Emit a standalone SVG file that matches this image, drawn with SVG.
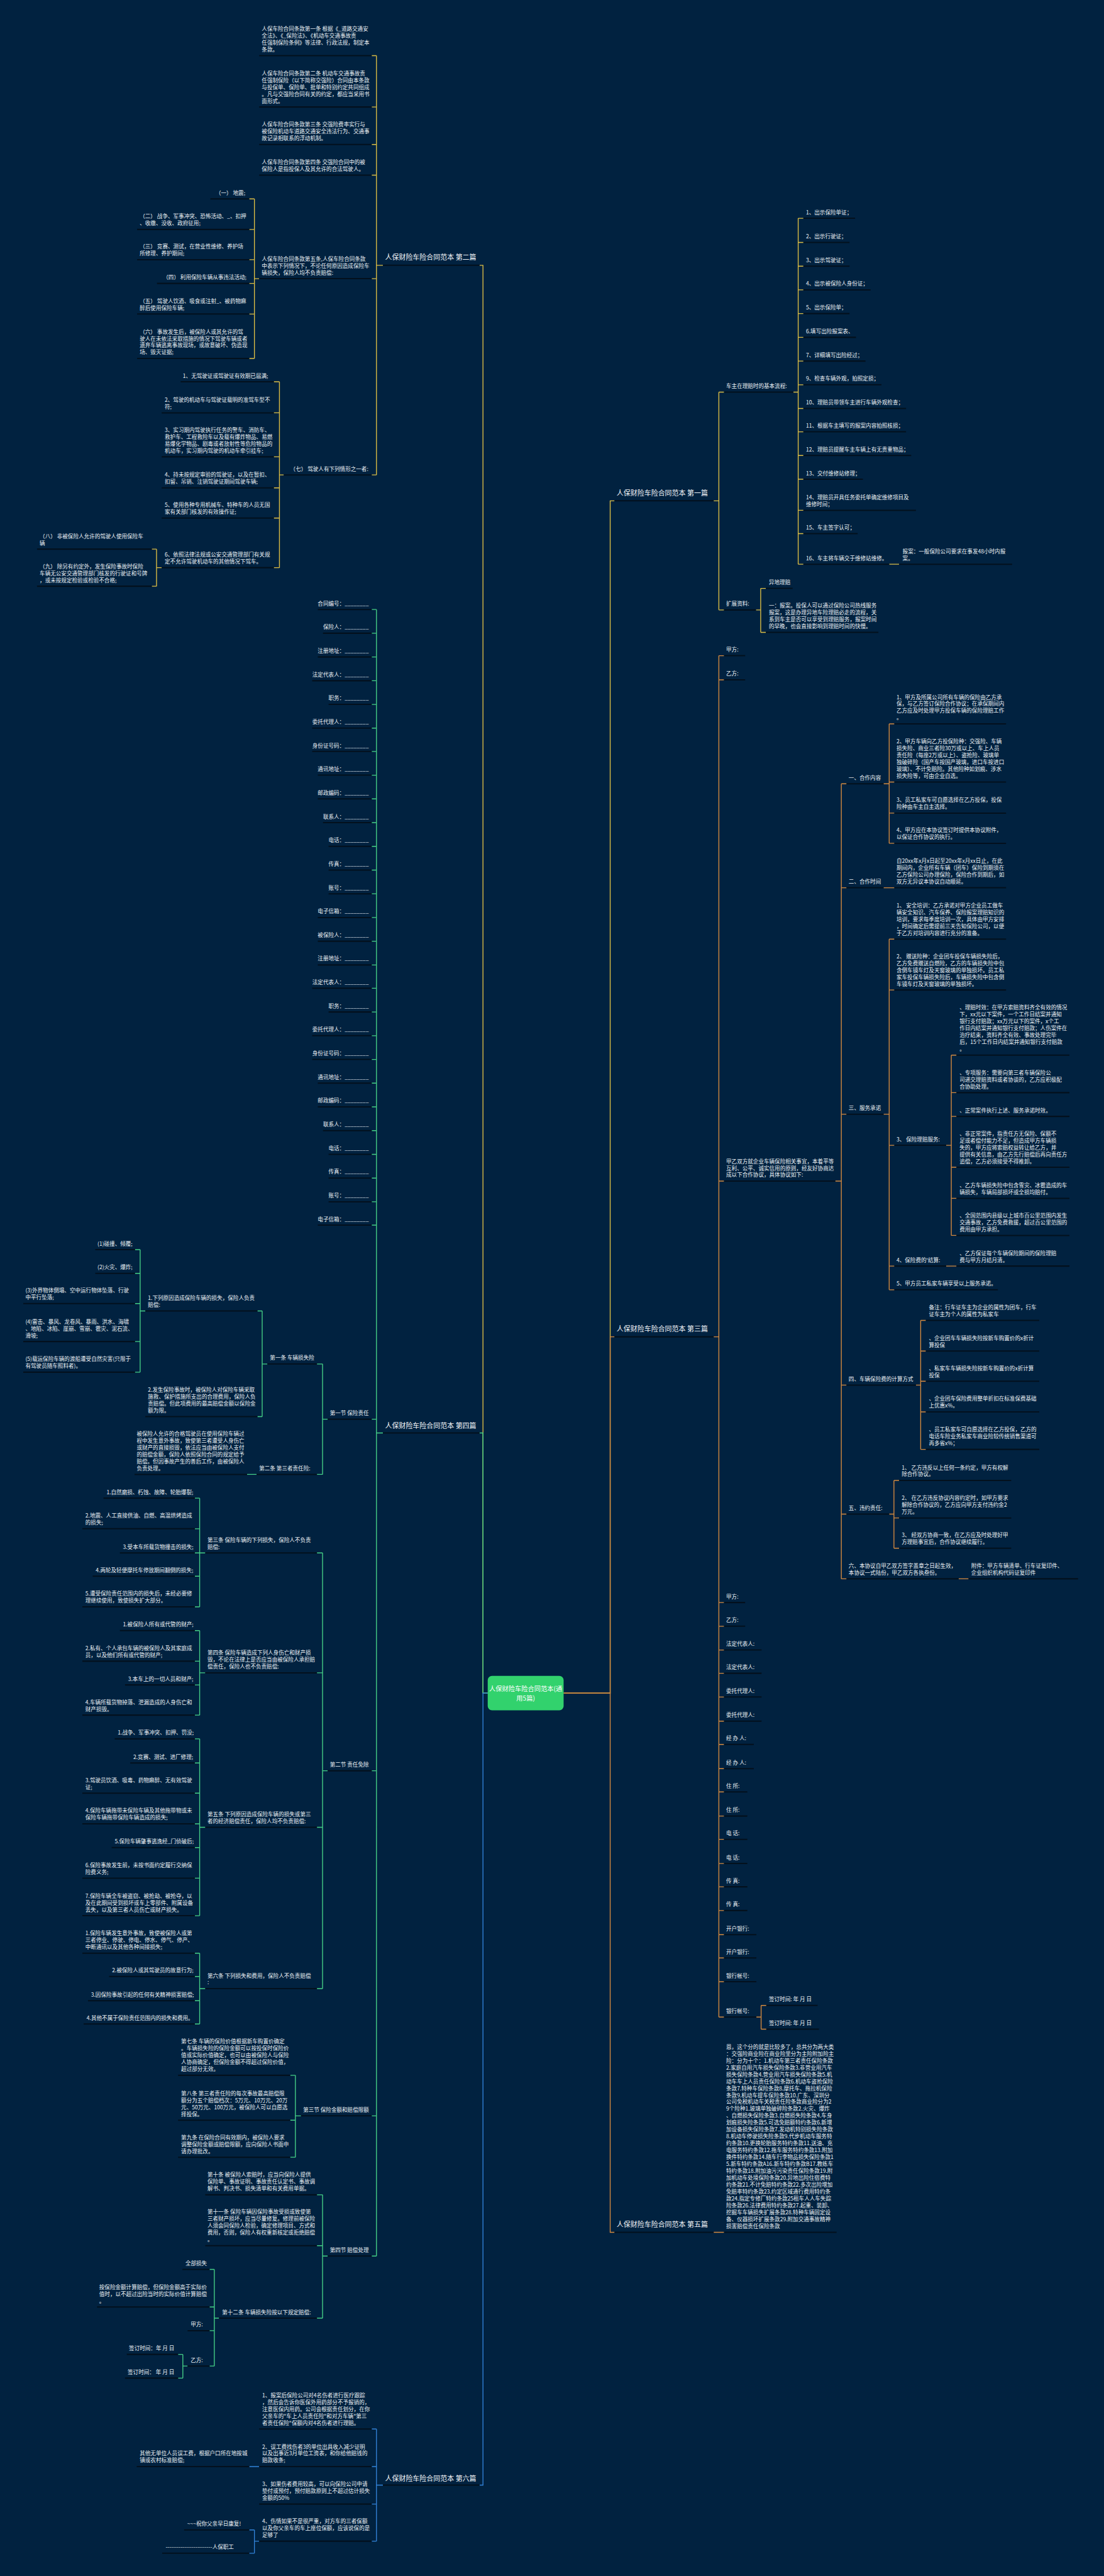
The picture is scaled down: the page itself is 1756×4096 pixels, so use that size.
<svg xmlns="http://www.w3.org/2000/svg" width="1756" height="4096" viewBox="0 0 1756 4096">
<style>
.t{font-family:"Noto Sans CJK SC","Liberation Sans",sans-serif;font-size:12.5px;fill:#eef2f6}
.h{font-family:"Noto Sans CJK SC","Liberation Sans",sans-serif;font-size:16px;fill:#f3f5f8}
.c{font-family:"Noto Sans CJK SC","Liberation Sans",sans-serif;font-size:15px;fill:#ffffff;text-anchor:middle}
.e{text-anchor:end}
.u{stroke:#03101d;stroke-width:3;fill:none}
.cy{stroke:#dcbd45;stroke-width:2;fill:none}
.co{stroke:#d4893f;stroke-width:2;fill:none}
.cg{stroke:#45cf86;stroke-width:2;fill:none}
.cb{stroke:#3282d8;stroke-width:2;fill:none}
</style>
<rect width="1756" height="4096" fill="#012240"/>
<g transform="scale(0.6859)">
<g id="connectors">
<path class="cy" d="M1131 3925H1120V615H1112M888 615H873M873 129V1101M873 129H862M873 248H862M873 335H862M873 406H862M873 646H862M873 1101H862M601 646H590M590 461V831M590 461H578M590 532H578M590 602H578M590 657H578M590 728H578M590 831H578M658 1101H648M648 885V1316M648 885H635M648 957H635M648 1059H635M648 1131H635M648 1201H635M648 1316H635M375 1316H363M363 1273V1359M363 1273H352M363 1359H352"/>
<path class="cy" d="M1307 3925H1415V1161H1425M1655 1161H1667M1667 909V1414M1667 909H1679M1667 1414H1679M1840 909H1851M1851 506V1308M1851 506H1863M1851 562H1863M1851 617H1863M1851 672H1863M1851 727H1863M1851 782H1863M1851 837H1863M1851 892H1863M1851 947H1863M1851 1001H1863M1851 1056H1863M1851 1111H1863M1851 1183H1863M1851 1237H1863M1851 1308H1863M2062 1308H2085M1753 1414H1764M1764 1364V1466M1764 1364H1776M1764 1466H1776"/>
<path class="co" d="M1307 3925H1415V3099H1425M1655 3099H1667M1667 1520V4676M1667 1520H1679M1667 1576H1679M1667 2738H1679M1667 3715H1679M1667 3770H1679M1667 3825H1679M1667 3879H1679M1667 3934H1679M1667 3990H1679M1667 4044H1679M1667 4100H1679M1667 4154H1679M1667 4210H1679M1667 4264H1679M1667 4320H1679M1667 4374H1679M1667 4429H1679M1667 4485H1679M1667 4539H1679M1667 4594H1679M1667 4676H1679M1754 4676H1765M1765 4649V4704M1765 4649H1777M1765 4704H1777M1937 2738H1951M1951 1817V3660M1951 1817H1963M1951 2058H1963M1951 2583H1963M1951 3211H1963M1951 3510H1963M1951 3660H1963M2049 1817H2062M2062 1678V1955M2062 1678H2074M2062 1813H2074M2062 1885H2074M2062 1955H2074M2049 2058H2074M2049 2583H2062M2062 2177V2990M2062 2177H2074M2062 2295H2074M2062 2655H2074M2062 2935H2074M2062 2990H2074M2194 2655H2206M2206 2446V2864M2206 2446H2218M2206 2533H2218M2206 2588H2218M2206 2706H2218M2206 2778H2218M2206 2864H2218M2194 2935H2218M2124 3211H2135M2135 3061V3360M2135 3061H2147M2135 3132H2147M2135 3202H2147M2135 3273H2147M2135 3360H2147M2062 3510H2073M2073 3432V3589M2073 3432H2085M2073 3519H2085M2073 3589H2085M2223 3660H2246"/>
<path class="co" d="M1307 3925H1415V5175H1425M1655 5175H1679"/>
<path class="cg" d="M1131 3925H1120V3322H1112M888 3322H873M873 1413V5230M873 1413H862M873 1468H862M873 1523H862M873 1578H862M873 1633H862M873 1688H862M873 1742H862M873 1797H862M873 1852H862M873 1907H862M873 1962H862M873 2017H862M873 2072H862M873 2127H862M873 2182H862M873 2237H862M873 2291H862M873 2346H862M873 2401H862M873 2456H862M873 2511H862M873 2566H862M873 2621H862M873 2676H862M873 2731H862M873 2786H862M873 2840H862M873 3290H862M873 4105H862M873 4905H862M873 5230H862M760 3290H748M748 3162V3418M748 3162H735M748 3418H735M620 3162H608M608 3039V3284M608 3039H597M608 3284H597M337 3039H325M325 2897V3181M325 2897H313M325 2952H313M325 3022H313M325 3110H313M325 3181H313M595 3418H573M760 4105H748M748 3600V4610M748 3600H735M748 3878H735M748 4236H735M748 4610H735M476 3600H463M463 3473V3725M463 3473H452M463 3544H452M463 3600H452M463 3654H452M463 3725H452M476 3878H463M463 3780V3976M463 3780H452M463 3851H452M463 3906H452M463 3976H452M476 4236H463M463 4031V4441M463 4031H452M463 4087H452M463 4157H452M463 4228H452M463 4283H452M463 4354H452M463 4441H452M476 4610H463M463 4528V4692M463 4528H452M463 4582H452M463 4638H452M463 4692H452M698 4905H685M685 4811V5001M685 4811H673M685 4915H673M685 5001H673M760 5230H748M748 5088V5374M748 5088H735M748 5206H735M748 5374H735M508 5374H497M497 5261V5485M497 5261H486M497 5348H486M497 5403H486M497 5485H486M435 5485H424M424 5458V5513M424 5458H413M424 5513H413"/>
<path class="cb" d="M1131 3925H1120V5761H1112M888 5761H873M873 5631V5891M873 5631H862M873 5718H862M873 5805H862M873 5891H862M601 5718H578M601 5891H590M590 5865V5919M590 5865H578M590 5919H578"/>
</g>

<g id="center"><rect x="1131" y="3885" width="176" height="80" rx="10" fill="#32d26d"/><text class="c"><tspan x="1219" y="3920">人保财险车险合同范本(通</tspan><tspan x="1219" dy="22">用5篇)</tspan></text></g>

<g id="b2"><text class="h" x="893" y="602">人保财险车险合同范本 第二篇</text><path class="u" d="M888 615H1112"/></g>
<g id="b4"><text class="h" x="893" y="3311">人保财险车险合同范本 第四篇</text><path class="u" d="M888 3322H1112"/></g>
<g id="b6"><text class="h" x="893" y="5751">人保财险车险合同范本 第六篇</text><path class="u" d="M888 5761H1112"/></g>
<g id="b1"><text class="h" x="1430" y="1149">人保财险车险合同范本 第一篇</text><path class="u" d="M1425 1161H1655"/></g>
<g id="b3"><text class="h" x="1430" y="3087">人保财险车险合同范本 第三篇</text><path class="u" d="M1425 3099H1655"/></g>
<g id="b5"><text class="h" x="1430" y="5163">人保财险车险合同范本 第五篇</text><path class="u" d="M1425 5175H1655"/></g>

<!-- 第二篇 -->
<g id="n2-1"><text class="t"><tspan x="607" y="71.5">人保车险合同条款第一条 根据《_道路交通安</tspan><tspan x="607" dy="16">全法》、《_保险法》、《机动车交通事故责</tspan><tspan x="607" dy="16">任强制保险条例》等法律、行政法规，制定本</tspan><tspan x="607" dy="16">条款。</tspan></text><path class="u" d="M601 129H862"/></g>
<g id="n2-2"><text class="t"><tspan x="607" y="174.5">人保车险合同条款第二条 机动车交通事故责</tspan><tspan x="607" dy="16">任强制保险（以下简称交强险）合同由本条款</tspan><tspan x="607" dy="16">与投保单、保险单、批单和特别约定共同组成</tspan><tspan x="607" dy="16">。凡与交强险合同有关的约定，都应当采用书</tspan><tspan x="607" dy="16">面形式。</tspan></text><path class="u" d="M601 248H862"/></g>
<g id="n2-3"><text class="t"><tspan x="607" y="293.5">人保车险合同条款第三条 交强险费率实行与</tspan><tspan x="607" dy="16">被保险机动车道路交通安全违法行为、交通事</tspan><tspan x="607" dy="16">故记录相联系的浮动机制。</tspan></text><path class="u" d="M601 335H862"/></g>
<g id="n2-4"><text class="t"><tspan x="607" y="380.5">人保车险合同条款第四条 交强险合同中的被</tspan><tspan x="607" dy="16">保险人是指投保人及其允许的合法驾驶人。</tspan></text><path class="u" d="M601 406H862"/></g>
<g id="n2-5"><text class="t"><tspan x="607" y="604.5">人保车险合同条款第五条,人保车险合同条款</tspan><tspan x="607" dy="16">中表示下列情况下，不论任何原因造成保险车</tspan><tspan x="607" dy="16">辆损失，保险人均不负责赔偿:</tspan></text><path class="u" d="M601 646H862"/></g>
<g id="n2-5-1"><text class="t" x="500" y="451.5">（一） 地震;</text><path class="u" d="M488 461H578"/></g>
<g id="n2-5-2"><text class="t"><tspan x="324" y="506.5">（二） 战争、军事冲突、恐怖活动、_、扣押</tspan><tspan x="324" dy="16">、收缴、没收、政府征用;</tspan></text><path class="u" d="M318 532H578"/></g>
<g id="n2-5-3"><text class="t"><tspan x="324" y="576.5">（三） 竞赛、测试，在营业性维修、养护场</tspan><tspan x="324" dy="16">所修理、养护期间;</tspan></text><path class="u" d="M318 602H578"/></g>
<g id="n2-5-4"><text class="t" x="378" y="647.5">（四） 利用保险车辆从事违法活动;</text><path class="u" d="M364 657H578"/></g>
<g id="n2-5-5"><text class="t"><tspan x="324" y="702.5">（五） 驾驶人饮酒、吸食或注射_、被药物麻</tspan><tspan x="324" dy="16">醉后使用保险车辆;</tspan></text><path class="u" d="M318 728H578"/></g>
<g id="n2-5-6"><text class="t"><tspan x="324" y="773.5">（六） 事故发生后，被保险人或其允许的驾</tspan><tspan x="324" dy="16">驶人在未依法采取措施的情况下驾驶车辆或者</tspan><tspan x="324" dy="16">遗弃车辆逃离事故现场，或故意破坏、伪造现</tspan><tspan x="324" dy="16">场、毁灭证据;</tspan></text><path class="u" d="M318 831H578"/></g>
<g id="n2-7"><text class="t" x="673" y="1091.5">（七） 驾驶人有下列情形之一者:</text><path class="u" d="M658 1101H862"/></g>
<g id="n2-7-1"><text class="t" x="424" y="875.5">1、无驾驶证或驾驶证有效期已届满;</text><path class="u" d="M419 885H635"/></g>
<g id="n2-7-2"><text class="t"><tspan x="382" y="931.5">2、驾驶的机动车与驾驶证载明的准驾车型不</tspan><tspan x="382" dy="16">符;</tspan></text><path class="u" d="M375 957H635"/></g>
<g id="n2-7-3"><text class="t"><tspan x="382" y="1001.5">3、实习期内驾驶执行任务的警车、消防车、</tspan><tspan x="382" dy="16">救护车、工程救险车以及载有爆炸物品、易燃</tspan><tspan x="382" dy="16">易爆化学物品、剧毒或者放射性等危险物品的</tspan><tspan x="382" dy="16">机动车，实习期内驾驶的机动车牵引挂车;</tspan></text><path class="u" d="M375 1059H635"/></g>
<g id="n2-7-4"><text class="t"><tspan x="382" y="1105.5">4、持未按规定审验的驾驶证，以及在暂扣、</tspan><tspan x="382" dy="16">扣留、吊销、注销驾驶证期间驾驶车辆;</tspan></text><path class="u" d="M375 1131H635"/></g>
<g id="n2-7-5"><text class="t"><tspan x="382" y="1175.5">5、使用各种专用机械车、特种车的人员无国</tspan><tspan x="382" dy="16">家有关部门核发的有效操作证;</tspan></text><path class="u" d="M375 1201H635"/></g>
<g id="n2-7-6"><text class="t"><tspan x="382" y="1290.5">6、依照法律法规或公安交通管理部门有关规</tspan><tspan x="382" dy="16">定不允许驾驶机动车的其他情况下驾车。</tspan></text><path class="u" d="M375 1316H635"/></g>
<g id="n2-7-6-1"><text class="t"><tspan x="92" y="1247.5">（八） 非被保险人允许的驾驶人使用保险车</tspan><tspan x="92" dy="16">辆</tspan></text><path class="u" d="M86 1273H352"/></g>
<g id="n2-7-6-2"><text class="t"><tspan x="92" y="1317.5">（九） 除另有约定外，发生保险事故时保险</tspan><tspan x="92" dy="16">车辆无公安交通管理部门核发的行驶证和号牌</tspan><tspan x="92" dy="16">，或未按规定检验或检验不合格;</tspan></text><path class="u" d="M86 1359H352"/></g>

<!-- 第一篇 -->
<g id="n1-a"><text class="t" x="1684" y="899.5">车主在理赔时的基本流程:</text><path class="u" d="M1679 909H1840"/></g>
<g id="n1-a1"><text class="t" x="1869" y="496.5">1、出示保险单证；</text><path class="u" d="M1863 506H1983"/></g>
<g id="n1-a2"><text class="t" x="1869" y="552.5">2、出示行驶证；</text><path class="u" d="M1863 562H1970"/></g>
<g id="n1-a3"><text class="t" x="1869" y="607.5">3、出示驾驶证；</text><path class="u" d="M1863 617H1970"/></g>
<g id="n1-a4"><text class="t" x="1869" y="662.5">4、出示被保险人身份证；</text><path class="u" d="M1863 672H2019"/></g>
<g id="n1-a5"><text class="t" x="1869" y="717.5">5、出示保险单；</text><path class="u" d="M1863 727H1970"/></g>
<g id="n1-a6"><text class="t" x="1869" y="772.5">6.填写出险报案表、</text><path class="u" d="M1863 782H1985"/></g>
<g id="n1-a7"><text class="t" x="1869" y="827.5">7、详细填写出险经过；</text><path class="u" d="M1863 837H2007"/></g>
<g id="n1-a9"><text class="t" x="1869" y="882.5">9、检查车辆外观，拍照定损；</text><path class="u" d="M1863 892H2044"/></g>
<g id="n1-a10"><text class="t" x="1869" y="937.5">10、理赔员带领车主进行车辆外观检查；</text><path class="u" d="M1863 947H2101"/></g>
<g id="n1-a11"><text class="t" x="1869" y="991.5">11、根据车主填写的报案内容拍照核损；</text><path class="u" d="M1863 1001H2101"/></g>
<g id="n1-a12"><text class="t" x="1869" y="1046.5">12、理赔员提醒车主车辆上有无贵重物品；</text><path class="u" d="M1863 1056H2113"/></g>
<g id="n1-a13"><text class="t" x="1869" y="1101.5">13、交付维修站修理；</text><path class="u" d="M1863 1111H2001"/></g>
<g id="n1-a14"><text class="t"><tspan x="1869" y="1157.5">14、理赔员开具任务委托单确定维修项目及</tspan><tspan x="1869" dy="16">维修时间；</tspan></text><path class="u" d="M1863 1183H2124"/></g>
<g id="n1-a15"><text class="t" x="1869" y="1227.5">15、车主签字认可；</text><path class="u" d="M1863 1237H1989"/></g>
<g id="n1-a16"><text class="t" x="1869" y="1298.5">16、车主将车辆交于维修站维修。</text><path class="u" d="M1863 1308H2062"/></g>
<g id="n1-a16-1"><text class="t"><tspan x="2093" y="1282.5">报案：一般保险公司要求在事发48小时内报</tspan><tspan x="2093" dy="16">案。</tspan></text><path class="u" d="M2085 1308H2347"/></g>
<g id="n1-b"><text class="t" x="1684" y="1404.5">扩展资料:</text><path class="u" d="M1679 1414H1753"/></g>
<g id="n1-b1"><text class="t" x="1783" y="1354.5">异地理赔</text><path class="u" d="M1776 1364H1838"/></g>
<g id="n1-b2"><text class="t"><tspan x="1783" y="1408.5">一：报案。投保人可以通过保险公司热线服务</tspan><tspan x="1783" dy="16">报案，这是办理异地车险理赔必走的流程，关</tspan><tspan x="1783" dy="16">系到车主是否可以享受到理赔服务，报案时间</tspan><tspan x="1783" dy="16">的早晚，也会直接影响到理赔时间的快慢。</tspan></text><path class="u" d="M1776 1466H2037"/></g>

<!-- 第三篇 -->
<g id="n3-1"><text class="t" x="1684" y="1510.5">甲方:</text><path class="u" d="M1679 1520H1728"/></g>
<g id="n3-2"><text class="t" x="1684" y="1566.5">乙方:</text><path class="u" d="M1679 1576H1728"/></g>
<g id="n3-3"><text class="t"><tspan x="1684" y="2696.5">甲乙双方就企业车辆保险相关事宜，本着平等</tspan><tspan x="1684" dy="16">互利、公平、诚实信用的原则，经友好协商达</tspan><tspan x="1684" dy="16">成以下合作协议，具体协议如下:</tspan></text><path class="u" d="M1679 2738H1937"/></g>
<g id="n3-3-1"><text class="t" x="1968" y="1807.5">一、合作内容</text><path class="u" d="M1963 1817H2049"/></g>
<g id="n3-3-1-1"><text class="t"><tspan x="2079" y="1620.5">1、甲方及所属公司所有车辆的保险由乙方承</tspan><tspan x="2079" dy="16">保，与乙方签订保险合作协议；在承保期间内</tspan><tspan x="2079" dy="16">乙方应及时处理甲方投保车辆的保险理赔工作</tspan><tspan x="2079" dy="16">。</tspan></text><path class="u" d="M2074 1678H2333"/></g>
<g id="n3-3-1-2"><text class="t"><tspan x="2079" y="1723.5">2、甲方车辆向乙方投保险种：交强险、车辆</tspan><tspan x="2079" dy="16">损失险、商业三者险30万或以上、车上人员</tspan><tspan x="2079" dy="16">责任险（每座2万或以上）、盗抢险、玻璃单</tspan><tspan x="2079" dy="16">独破碎险（国产车按国产玻璃，进口车按进口</tspan><tspan x="2079" dy="16">玻璃）、不计免赔险。其他险种如划痕、涉水</tspan><tspan x="2079" dy="16">损失险等，可由企业自选。</tspan></text><path class="u" d="M2074 1813H2333"/></g>
<g id="n3-3-1-3"><text class="t"><tspan x="2079" y="1859.5">3、员工私家车可自愿选择在乙方投保，投保</tspan><tspan x="2079" dy="16">险种由车主自主选择。</tspan></text><path class="u" d="M2074 1885H2333"/></g>
<g id="n3-3-1-4"><text class="t"><tspan x="2079" y="1929.5">4、甲方应在本协议签订时提供本协议附件，</tspan><tspan x="2079" dy="16">以保证合作协议的执行。</tspan></text><path class="u" d="M2074 1955H2333"/></g>
<g id="n3-3-2"><text class="t" x="1968" y="2048.5">二、合作时间</text><path class="u" d="M1963 2058H2049"/></g>
<g id="n3-3-2-1"><text class="t"><tspan x="2079" y="2000.5">自20xx年x月x日起至20xx年x月xx日止，在此</tspan><tspan x="2079" dy="16">期间内，企业所有车辆（团车）保险到期须在</tspan><tspan x="2079" dy="16">乙方保险公司办理保险，保险合作到期后，如</tspan><tspan x="2079" dy="16">双方无异议本协议自动顺延。</tspan></text><path class="u" d="M2074 2058H2333"/></g>
<g id="n3-3-3"><text class="t" x="1968" y="2573.5">三、服务承诺</text><path class="u" d="M1963 2583H2049"/></g>
<g id="n3-3-3-1"><text class="t"><tspan x="2079" y="2103.5">1、 安全培训：乙方承诺对甲方企业员工做车</tspan><tspan x="2079" dy="16">辆安全知识、汽车保养、保险报案理赔知识的</tspan><tspan x="2079" dy="16">培训，要求每季度培训一次，具体由甲方安排</tspan><tspan x="2079" dy="16">，时间确定后需提前三天告知保险公司，以便</tspan><tspan x="2079" dy="16">于乙方对培训内容进行充分的准备。</tspan></text><path class="u" d="M2074 2177H2333"/></g>
<g id="n3-3-3-2"><text class="t"><tspan x="2079" y="2221.5">2、 赠送险种：企业团车投保车辆损失险后，</tspan><tspan x="2079" dy="16">乙方免费赠送自燃险，乙方的车辆损失险中包</tspan><tspan x="2079" dy="16">含倒车镜车灯及天窗玻璃的单独损坏。员工私</tspan><tspan x="2079" dy="16">家车投保车辆损失险后，车辆损失险中包含倒</tspan><tspan x="2079" dy="16">车镜车灯及天窗玻璃的单独损坏。</tspan></text><path class="u" d="M2074 2295H2333"/></g>
<g id="n3-3-3-3"><text class="t" x="2079" y="2645.5">3、 保险理赔服务:</text><path class="u" d="M2074 2655H2194"/></g>
<g id="n3-3-3-3-1"><text class="t"><tspan x="2225" y="2340.5">、理赔时效：在甲方索赔资料齐全有效的情况</tspan><tspan x="2225" dy="16">下，xx元以下案件，一个工作日结案并通知</tspan><tspan x="2225" dy="16">银行支付赔款；xx万元以下的案件，x个工</tspan><tspan x="2225" dy="16">作日内结案并通知银行支付赔款；人伤案件在</tspan><tspan x="2225" dy="16">治疗结束，资料齐全有效、事故处理完毕</tspan><tspan x="2225" dy="16">后，15个工作日内结案并通知银行支付赔款</tspan><tspan x="2225" dy="16">。</tspan></text><path class="u" d="M2218 2446H2480"/></g>
<g id="n3-3-3-3-2"><text class="t"><tspan x="2225" y="2491.5">、专项服务：需要向第三者车辆保险公</tspan><tspan x="2225" dy="16">司递交理赔资料或者协谈的，乙方应积极配</tspan><tspan x="2225" dy="16">合协助处理。</tspan></text><path class="u" d="M2218 2533H2480"/></g>
<g id="n3-3-3-3-3"><text class="t" x="2225" y="2578.5">、正常案件执行上述、服务承诺时效。</text><path class="u" d="M2218 2588H2480"/></g>
<g id="n3-3-3-3-4"><text class="t"><tspan x="2225" y="2632.5">、非正常案件，指责任方无保险、保额不</tspan><tspan x="2225" dy="16">足或者偿付能力不足，但造成甲方车辆损</tspan><tspan x="2225" dy="16">失的，甲方应将索赔权益转让给乙方，并</tspan><tspan x="2225" dy="16">提供有关信息，由乙方先行赔偿后再向责任方</tspan><tspan x="2225" dy="16">追偿，乙方必须接受不得推卸。</tspan></text><path class="u" d="M2218 2706H2480"/></g>
<g id="n3-3-3-3-5"><text class="t"><tspan x="2225" y="2752.5">、乙方车辆损失险中包含雪灾、冰雹造成的车</tspan><tspan x="2225" dy="16">辆损失，车辆局部损坏或全损均赔付。</tspan></text><path class="u" d="M2218 2778H2480"/></g>
<g id="n3-3-3-3-6"><text class="t"><tspan x="2225" y="2822.5">、全国范围内县级以上城市百公里范围内发生</tspan><tspan x="2225" dy="16">交通事故，乙方免费救援，超过百公里范围的</tspan><tspan x="2225" dy="16">费用由甲方承担。</tspan></text><path class="u" d="M2218 2864H2480"/></g>
<g id="n3-3-3-4"><text class="t" x="2079" y="2925.5">4、保险费的'结算:</text><path class="u" d="M2074 2935H2194"/></g>
<g id="n3-3-3-4-1"><text class="t"><tspan x="2225" y="2909.5">、乙方保证每个车辆保险期间的保险理赔</tspan><tspan x="2225" dy="16">费与甲方月结月清。</tspan></text><path class="u" d="M2218 2935H2480"/></g>
<g id="n3-3-3-5"><text class="t" x="2079" y="2980.5">5、甲方员工私家车辆享受以上服务承诺。</text><path class="u" d="M2074 2990H2314"/></g>
<g id="n3-3-4"><text class="t" x="1968" y="3201.5">四、车辆保险费的计算方式</text><path class="u" d="M1963 3211H2124"/></g>
<g id="n3-3-4-1"><text class="t"><tspan x="2154" y="3035.5">备注：行车证车主为企业的属性为团车，行车</tspan><tspan x="2154" dy="16">证车主为个人的属性为私家车</tspan></text><path class="u" d="M2147 3061H2410"/></g>
<g id="n3-3-4-2"><text class="t"><tspan x="2154" y="3106.5">、企业团车车辆损失险按新车购置价的x折计</tspan><tspan x="2154" dy="16">算投保</tspan></text><path class="u" d="M2147 3132H2410"/></g>
<g id="n3-3-4-3"><text class="t"><tspan x="2154" y="3176.5">、私家车车辆损失险按新车购置价的x折计算</tspan><tspan x="2154" dy="16">投保</tspan></text><path class="u" d="M2147 3202H2410"/></g>
<g id="n3-3-4-4"><text class="t"><tspan x="2154" y="3247.5">、企业团车保险费用整单折扣在标准保费基础</tspan><tspan x="2154" dy="16">上优惠x%。</tspan></text><path class="u" d="M2147 3273H2410"/></g>
<g id="n3-3-4-5"><text class="t"><tspan x="2154" y="3318.5">、员工私家车可自愿选择在乙方投保，乙方的</tspan><tspan x="2154" dy="16">电话车险业务私家车商业险较传统销售渠道可</tspan><tspan x="2154" dy="16">再多省x%；</tspan></text><path class="u" d="M2147 3360H2410"/></g>
<g id="n3-3-5"><text class="t" x="1968" y="3500.5">五、违约责任:</text><path class="u" d="M1963 3510H2062"/></g>
<g id="n3-3-5-1"><text class="t"><tspan x="2091" y="3406.5">1、 乙方违反以上任何一条约定，甲方有权解</tspan><tspan x="2091" dy="16">除合作协议。</tspan></text><path class="u" d="M2085 3432H2345"/></g>
<g id="n3-3-5-2"><text class="t"><tspan x="2091" y="3477.5">2、 在乙方违反协议内容约定时，如甲方要求</tspan><tspan x="2091" dy="16">解除合作协议的，乙方应向甲方支付违约金2</tspan><tspan x="2091" dy="16">万元。</tspan></text><path class="u" d="M2085 3519H2345"/></g>
<g id="n3-3-5-3"><text class="t"><tspan x="2091" y="3563.5">3、 经双方协商一致，在乙方应及时处理好甲</tspan><tspan x="2091" dy="16">方理赔事宜后，合作协议继续履行。</tspan></text><path class="u" d="M2085 3589H2345"/></g>
<g id="n3-3-6"><text class="t"><tspan x="1968" y="3634.5">六、本协议自甲乙双方签字盖章之日起生效，</tspan><tspan x="1968" dy="16">本协议一式陆份，甲乙双方各执叁份。</tspan></text><path class="u" d="M1963 3660H2223"/></g>
<g id="n3-3-6-1"><text class="t"><tspan x="2252" y="3634.5">附件：甲方车辆清单、行车证复印件、</tspan><tspan x="2252" dy="16">企业组织机构代码证复印件</tspan></text><path class="u" d="M2246 3660H2500"/></g>
<g id="n3-4"><text class="t" x="1684" y="3705.5">甲方:</text><path class="u" d="M1679 3715H1728"/></g>
<g id="n3-5"><text class="t" x="1684" y="3760.5">乙方:</text><path class="u" d="M1679 3770H1728"/></g>
<g id="n3-6"><text class="t" x="1684" y="3815.5">法定代表人:</text><path class="u" d="M1679 3825H1766"/></g>
<g id="n3-7"><text class="t" x="1684" y="3869.5">法定代表人:</text><path class="u" d="M1679 3879H1766"/></g>
<g id="n3-8"><text class="t" x="1684" y="3924.5">委托代理人:</text><path class="u" d="M1679 3934H1766"/></g>
<g id="n3-9"><text class="t" x="1684" y="3980.5">委托代理人:</text><path class="u" d="M1679 3990H1766"/></g>
<g id="n3-10"><text class="t" x="1684" y="4034.5">经 办 人:</text><path class="u" d="M1679 4044H1748"/></g>
<g id="n3-11"><text class="t" x="1684" y="4090.5">经 办 人:</text><path class="u" d="M1679 4100H1748"/></g>
<g id="n3-12"><text class="t" x="1684" y="4144.5">住 所:</text><path class="u" d="M1679 4154H1733"/></g>
<g id="n3-13"><text class="t" x="1684" y="4200.5">住 所:</text><path class="u" d="M1679 4210H1733"/></g>
<g id="n3-14"><text class="t" x="1684" y="4254.5">电 话:</text><path class="u" d="M1679 4264H1733"/></g>
<g id="n3-15"><text class="t" x="1684" y="4310.5">电 话:</text><path class="u" d="M1679 4320H1733"/></g>
<g id="n3-16"><text class="t" x="1684" y="4364.5">传 真:</text><path class="u" d="M1679 4374H1733"/></g>
<g id="n3-17"><text class="t" x="1684" y="4419.5">传 真:</text><path class="u" d="M1679 4429H1733"/></g>
<g id="n3-18"><text class="t" x="1684" y="4475.5">开户银行:</text><path class="u" d="M1679 4485H1754"/></g>
<g id="n3-19"><text class="t" x="1684" y="4529.5">开户银行:</text><path class="u" d="M1679 4539H1754"/></g>
<g id="n3-20"><text class="t" x="1684" y="4584.5">银行帐号:</text><path class="u" d="M1679 4594H1754"/></g>
<g id="n3-21"><text class="t" x="1684" y="4666.5">银行帐号:</text><path class="u" d="M1679 4676H1754"/></g>
<g id="n3-21-1"><text class="t" x="1783" y="4639.5">签订时间:  年 月 日</text><path class="u" d="M1777 4649H1896"/></g>
<g id="n3-21-2"><text class="t" x="1783" y="4694.5">签订时间:   年 月 日</text><path class="u" d="M1777 4704H1899"/></g>

<!-- 第五篇 -->
<g id="n5-1"><text class="t"><tspan x="1684" y="4749.5">恩，这个分的就是比较多了，总共分为两大类</tspan><tspan x="1684" dy="16">：交强险商业险在商业险里分为主险附加险主</tspan><tspan x="1684" dy="16">险：分为十个：1.机动车第三者责任保险条款</tspan><tspan x="1684" dy="16">2.家庭自用汽车损失保险条款3.非营业用汽车</tspan><tspan x="1684" dy="16">损失保险条款4.营业用汽车损失保险条款5.机</tspan><tspan x="1684" dy="16">动车车上人员责任保险条款6.机动车盗抢保险</tspan><tspan x="1684" dy="16">条款7.特种车保险条款8.摩托车、拖拉机保险</tspan><tspan x="1684" dy="16">条款9.机动车提车保险条款10.广东、深圳分</tspan><tspan x="1684" dy="16">公司免税机动车关税责任险条款商业险分为2</tspan><tspan x="1684" dy="16">9个险种1.玻璃单独破碎险条款2.火灾、爆炸</tspan><tspan x="1684" dy="16">、自燃损失保险条款3.自燃损失险条款4.车身</tspan><tspan x="1684" dy="16">划痕损失险条款5.可选免赔额特约条款6.新增</tspan><tspan x="1684" dy="16">加设备损失保险条款7.发动机特别损失险条款</tspan><tspan x="1684" dy="16">8.机动车停驶损失险条款9.代步机动车服务特</tspan><tspan x="1684" dy="16">约条款10.更换轮胎服务特约条款11.送油、充</tspan><tspan x="1684" dy="16">电服务特约条款12.拖车服务特约条款13.附加</tspan><tspan x="1684" dy="16">换件特约条款14.随车行李物品损失保险条款1</tspan><tspan x="1684" dy="16">5.新车特约条款A16.新车特约条款B17.教练车</tspan><tspan x="1684" dy="16">特约条款18.附加油污污染责任保险条款19.附</tspan><tspan x="1684" dy="16">加机动车处境保险条款20.异地出险住宿费特</tspan><tspan x="1684" dy="16">约条款21.不计免赔特约条款22.多次出险增加</tspan><tspan x="1684" dy="16">免赔率特约条款23.约定区域通行费用特约条</tspan><tspan x="1684" dy="16">款24.指定专修厂特约条款25租车人人车失踪</tspan><tspan x="1684" dy="16">险条款26.法律费用特约条款27.起重、装卸、</tspan><tspan x="1684" dy="16">挖掘车车辆损失扩展条款28.特种车辆固定设</tspan><tspan x="1684" dy="16">备、仪器损坏扩展条款29.附加交通事故精神</tspan><tspan x="1684" dy="16">损害赔偿责任保险条款</tspan></text><path class="u" d="M1679 5175H1940"/></g>

<!-- 第四篇 -->
<g id="n4-f0"><text class="t e" x="855" y="1403.5">合同编号：________</text><path class="u" d="M737 1413H862"/></g>
<g id="n4-f1"><text class="t e" x="855" y="1458.4">保险人：________</text><path class="u" d="M749 1468H862"/></g>
<g id="n4-f2"><text class="t e" x="855" y="1513.3">注册地址：________</text><path class="u" d="M737 1523H862"/></g>
<g id="n4-f3"><text class="t e" x="855" y="1568.2">法定代表人：________</text><path class="u" d="M724 1578H862"/></g>
<g id="n4-f4"><text class="t e" x="855" y="1623.1">职务：________</text><path class="u" d="M762 1633H862"/></g>
<g id="n4-f5"><text class="t e" x="855" y="1678">委托代理人：________</text><path class="u" d="M724 1688H862"/></g>
<g id="n4-f6"><text class="t e" x="855" y="1732.9">身份证号码：________</text><path class="u" d="M724 1742H862"/></g>
<g id="n4-f7"><text class="t e" x="855" y="1787.8">通讯地址：________</text><path class="u" d="M737 1797H862"/></g>
<g id="n4-f8"><text class="t e" x="855" y="1842.7">邮政编码：________</text><path class="u" d="M737 1852H862"/></g>
<g id="n4-f9"><text class="t e" x="855" y="1897.6">联系人：________</text><path class="u" d="M749 1907H862"/></g>
<g id="n4-f10"><text class="t e" x="855" y="1952.5">电话：________</text><path class="u" d="M762 1962H862"/></g>
<g id="n4-f11"><text class="t e" x="855" y="2007.4">传真：________</text><path class="u" d="M762 2017H862"/></g>
<g id="n4-f12"><text class="t e" x="855" y="2062.3">账号：________</text><path class="u" d="M762 2072H862"/></g>
<g id="n4-f13"><text class="t e" x="855" y="2117.2">电子信箱：________</text><path class="u" d="M737 2127H862"/></g>
<g id="n4-f14"><text class="t e" x="855" y="2172.1">被保险人：________</text><path class="u" d="M737 2182H862"/></g>
<g id="n4-f15"><text class="t e" x="855" y="2227">注册地址：________</text><path class="u" d="M737 2237H862"/></g>
<g id="n4-f16"><text class="t e" x="855" y="2281.9">法定代表人：________</text><path class="u" d="M724 2291H862"/></g>
<g id="n4-f17"><text class="t e" x="855" y="2336.8">职务：________</text><path class="u" d="M762 2346H862"/></g>
<g id="n4-f18"><text class="t e" x="855" y="2391.7">委托代理人：________</text><path class="u" d="M724 2401H862"/></g>
<g id="n4-f19"><text class="t e" x="855" y="2446.6">身份证号码：________</text><path class="u" d="M724 2456H862"/></g>
<g id="n4-f20"><text class="t e" x="855" y="2501.5">通讯地址：________</text><path class="u" d="M737 2511H862"/></g>
<g id="n4-f21"><text class="t e" x="855" y="2556.4">邮政编码：________</text><path class="u" d="M737 2566H862"/></g>
<g id="n4-f22"><text class="t e" x="855" y="2611.3">联系人：________</text><path class="u" d="M749 2621H862"/></g>
<g id="n4-f23"><text class="t e" x="855" y="2666.2">电话：________</text><path class="u" d="M762 2676H862"/></g>
<g id="n4-f24"><text class="t e" x="855" y="2721.1">传真：________</text><path class="u" d="M762 2731H862"/></g>
<g id="n4-f25"><text class="t e" x="855" y="2776">账号：________</text><path class="u" d="M762 2786H862"/></g>
<g id="n4-f26"><text class="t e" x="855" y="2830.9">电子信箱：________</text><path class="u" d="M737 2840H862"/></g>

<g id="n4-s1"><text class="t" x="765" y="3280.5">第一节 保险责任</text><path class="u" d="M760 3290H862"/></g>
<g id="n4-s1-1"><text class="t" x="626" y="3152.5">第一条 车辆损失险</text><path class="u" d="M620 3162H735"/></g>
<g id="n4-s1-1-1"><text class="t"><tspan x="343" y="3013.5">1.下列原因造成保险车辆的损失，保险人负责</tspan><tspan x="343" dy="16">赔偿:</tspan></text><path class="u" d="M337 3039H597"/></g>
<g id="n4-s1-1-1-1"><text class="t" x="226" y="2887.5">(1)碰撞、倾覆;</text><path class="u" d="M221 2897H313"/></g>
<g id="n4-s1-1-1-2"><text class="t" x="226" y="2942.5">(2)火灾、爆炸;</text><path class="u" d="M221 2952H313"/></g>
<g id="n4-s1-1-1-3"><text class="t"><tspan x="59" y="2996.5">(3)外界物体倒塌、空中运行物体坠落、行驶</tspan><tspan x="59" dy="16">中平行坠落;</tspan></text><path class="u" d="M54 3022H313"/></g>
<g id="n4-s1-1-1-4"><text class="t"><tspan x="59" y="3068.5">(4)雷击、暴风、龙卷风、暴雨、洪水、海啸</tspan><tspan x="59" dy="16">、地陷、冰陷、崖崩、雪崩、雹灾、泥石流、</tspan><tspan x="59" dy="16">滑坡;</tspan></text><path class="u" d="M54 3110H313"/></g>
<g id="n4-s1-1-1-5"><text class="t"><tspan x="59" y="3155.5">(5)载运保险车辆的渡船遭受自然灾害(只限于</tspan><tspan x="59" dy="16">有驾驶员随车照料者)。</tspan></text><path class="u" d="M54 3181H313"/></g>
<g id="n4-s1-1-2"><text class="t"><tspan x="343" y="3226.5">2.发生保险事故时，被保险人对保险车辆采取</tspan><tspan x="343" dy="16">施救、保护措施所支出的合理费用，保险人负</tspan><tspan x="343" dy="16">责赔偿。但此项费用的最高赔偿金额以保险金</tspan><tspan x="343" dy="16">额为限。</tspan></text><path class="u" d="M337 3284H597"/></g>
<g id="n4-s1-2"><text class="t" x="601" y="3408.5">第二条 第三者责任险:</text><path class="u" d="M595 3418H735"/></g>
<g id="n4-s1-2-1"><text class="t"><tspan x="317" y="3328.5">被保险人允许的合格驾驶员在使用保险车辆过</tspan><tspan x="317" dy="16">程中发生意外事故，致使第三者遭受人身伤亡</tspan><tspan x="317" dy="16">或财产的直接损毁，依法应当由被保险人支付</tspan><tspan x="317" dy="16">的赔偿金额，保险人依照保险合同的规定给予</tspan><tspan x="317" dy="16">赔偿。但因事故产生的善后工作，由被保险人</tspan><tspan x="317" dy="16">负责处理。</tspan></text><path class="u" d="M312 3418H573"/></g>

<g id="n4-s2"><text class="t" x="765" y="4095.5">第二节 责任免除</text><path class="u" d="M760 4105H862"/></g>
<g id="n4-s2-3"><text class="t"><tspan x="481" y="3574.5">第三条 保险车辆的下列损失，保险人不负责</tspan><tspan x="481" dy="16">赔偿:</tspan></text><path class="u" d="M476 3600H735"/></g>
<g id="n4-s2-3-1"><text class="t" x="247" y="3463.5">1.自然磨损、朽蚀、故障、轮胎爆裂;</text><path class="u" d="M240 3473H452"/></g>
<g id="n4-s2-3-2"><text class="t"><tspan x="198" y="3518.5">2.地震、人工直接供油、自燃、高温烘烤造成</tspan><tspan x="198" dy="16">的损失;</tspan></text><path class="u" d="M191 3544H452"/></g>
<g id="n4-s2-3-3"><text class="t" x="285" y="3590.5">3.受本车所载货物撞击的损失;</text><path class="u" d="M278 3600H452"/></g>
<g id="n4-s2-3-4"><text class="t" x="222" y="3644.5">4.两轮及轻便摩托车停放期间翻倒的损失;</text><path class="u" d="M215 3654H452"/></g>
<g id="n4-s2-3-5"><text class="t"><tspan x="198" y="3699.5">5.遭受保险责任范围内的损失后，未经必要修</tspan><tspan x="198" dy="16">理继续使用，致使损失扩大部分。</tspan></text><path class="u" d="M191 3725H452"/></g>
<g id="n4-s2-4"><text class="t"><tspan x="481" y="3836.5">第四条 保险车辆造成下列人身伤亡和财产损</tspan><tspan x="481" dy="16">毁，不论在法律上是否应当由被保险人承担赔</tspan><tspan x="481" dy="16">偿责任，保险人也不负责赔偿:</tspan></text><path class="u" d="M476 3878H735"/></g>
<g id="n4-s2-4-1"><text class="t" x="285" y="3770.5">1.被保险人所有或代管的财产;</text><path class="u" d="M278 3780H452"/></g>
<g id="n4-s2-4-2"><text class="t"><tspan x="198" y="3825.5">2.私有、个人承包车辆的被保险人及其家庭成</tspan><tspan x="198" dy="16">员，以及他们所有或代管的财产;</tspan></text><path class="u" d="M191 3851H452"/></g>
<g id="n4-s2-4-3"><text class="t" x="297" y="3896.5">3.本车上的一切人员和财产;</text><path class="u" d="M290 3906H452"/></g>
<g id="n4-s2-4-4"><text class="t"><tspan x="198" y="3950.5">4.车辆所载货物掉落、泄漏造成的人身伤亡和</tspan><tspan x="198" dy="16">财产损毁。</tspan></text><path class="u" d="M191 3976H452"/></g>
<g id="n4-s2-5"><text class="t"><tspan x="481" y="4210.5">第五条 下列原因造成保险车辆的损失或第三</tspan><tspan x="481" dy="16">者的经济赔偿责任，保险人均不负责赔偿:</tspan></text><path class="u" d="M476 4236H735"/></g>
<g id="n4-s2-5-1"><text class="t" x="273" y="4021.5">1.战争、军事冲突、扣押、罚没;</text><path class="u" d="M266 4031H452"/></g>
<g id="n4-s2-5-2"><text class="t" x="309" y="4077.5">2.竞赛、测试、进厂修理;</text><path class="u" d="M302 4087H452"/></g>
<g id="n4-s2-5-3"><text class="t"><tspan x="198" y="4131.5">3.驾驶员饮酒、吸毒、药物麻醉、无有效驾驶</tspan><tspan x="198" dy="16">证;</tspan></text><path class="u" d="M191 4157H452"/></g>
<g id="n4-s2-5-4"><text class="t"><tspan x="198" y="4202.5">4.保险车辆拖带未保险车辆及其他拖带物或未</tspan><tspan x="198" dy="16">保险车辆拖带保险车辆造成的损失;</tspan></text><path class="u" d="M191 4228H452"/></g>
<g id="n4-s2-5-5"><text class="t" x="266" y="4273.5">5.保险车辆肇事逃逸经_门侦破后;</text><path class="u" d="M259 4283H452"/></g>
<g id="n4-s2-5-6"><text class="t"><tspan x="198" y="4328.5">6.保险事故发生前，未按书面约定履行交纳保</tspan><tspan x="198" dy="16">险费义务;</tspan></text><path class="u" d="M191 4354H452"/></g>
<g id="n4-s2-5-7"><text class="t"><tspan x="198" y="4399.5">7.保险车辆全车被盗窃、被抢劫、被抢夺，以</tspan><tspan x="198" dy="16">及在此期间受到损坏或车上零部件、附属设备</tspan><tspan x="198" dy="16">丢失，以及第三者人员伤亡或财产损失。</tspan></text><path class="u" d="M191 4441H452"/></g>
<g id="n4-s2-6"><text class="t"><tspan x="481" y="4584.5">第六条 下列损失和费用，保险人不负责赔偿</tspan><tspan x="481" dy="16">:</tspan></text><path class="u" d="M476 4610H735"/></g>
<g id="n4-s2-6-1"><text class="t"><tspan x="198" y="4486.5">1.保险车辆发生意外事故，致使被保险人或第</tspan><tspan x="198" dy="16">三者停业、停驶、停电、停水、停气、停产、</tspan><tspan x="198" dy="16">中断通讯以及其他各种间接损失;</tspan></text><path class="u" d="M191 4528H452"/></g>
<g id="n4-s2-6-2"><text class="t" x="260" y="4572.5">2.被保险人或其驾驶员的故意行为;</text><path class="u" d="M253 4582H452"/></g>
<g id="n4-s2-6-3"><text class="t" x="211" y="4628.5">3.因保险事故引起的任何有关精神损害赔偿;</text><path class="u" d="M204 4638H452"/></g>
<g id="n4-s2-6-4"><text class="t" x="201" y="4682.5">4.其他不属于保险责任范围内的损失和费用。</text><path class="u" d="M194 4692H452"/></g>

<g id="n4-s3"><text class="t" x="703" y="4895.5">第三节 保险金额和赔偿限额</text><path class="u" d="M698 4905H862"/></g>
<g id="n4-s3-7"><text class="t"><tspan x="420" y="4737.5">第七条 车辆的保险价值根据新车购置价确定</tspan><tspan x="420" dy="16">。车辆损失险的保险金额可以按投保时保险价</tspan><tspan x="420" dy="16">值或实际价值确定，也可以由被保险人与保险</tspan><tspan x="420" dy="16">人协商确定，但保险金额不得超过保险价值，</tspan><tspan x="420" dy="16">超过部分无效。</tspan></text><path class="u" d="M413 4811H673"/></g>
<g id="n4-s3-8"><text class="t"><tspan x="420" y="4857.5">第八条 第三者责任险的每次事故最高赔偿限</tspan><tspan x="420" dy="16">额分为五个赔偿档次：5万元、10万元、20万</tspan><tspan x="420" dy="16">元、50万元、100万元，被保险人可以自愿选</tspan><tspan x="420" dy="16">择投保。</tspan></text><path class="u" d="M413 4915H673"/></g>
<g id="n4-s3-9"><text class="t"><tspan x="420" y="4959.5">第九条 在保险合同有效期内，被保险人要求</tspan><tspan x="420" dy="16">调整保险金额或赔偿限额，应向保险人书面申</tspan><tspan x="420" dy="16">请办理批改。</tspan></text><path class="u" d="M413 5001H673"/></g>

<g id="n4-s4"><text class="t" x="765" y="5220.5">第四节 赔偿处理</text><path class="u" d="M760 5230H862"/></g>
<g id="n4-s4-10"><text class="t"><tspan x="481" y="5046.5">第十条 被保险人索赔时，应当向保险人提供</tspan><tspan x="481" dy="16">保险单、事故证明、事故责任认定书、事故调</tspan><tspan x="481" dy="16">解书、判决书、损失清单和有关费用单据。</tspan></text><path class="u" d="M476 5088H735"/></g>
<g id="n4-s4-11"><text class="t"><tspan x="481" y="5132.5">第十一条 保险车辆因保险事故受损或致使第</tspan><tspan x="481" dy="16">三者财产损坏，应当尽量修复。修理前被保险</tspan><tspan x="481" dy="16">人须会同保险人检验，确定修理项目、方式和</tspan><tspan x="481" dy="16">费用，否则，保险人有权重新核定或拒绝赔偿</tspan><tspan x="481" dy="16">。</tspan></text><path class="u" d="M476 5206H735"/></g>
<g id="n4-s4-12"><text class="t" x="515" y="5364.5">第十二条 车辆损失险按以下规定赔偿:</text><path class="u" d="M508 5374H735"/></g>
<g id="n4-s4-12-1"><text class="t" x="430" y="5251.5">全部损失</text><path class="u" d="M423 5261H486"/></g>
<g id="n4-s4-12-2"><text class="t"><tspan x="230" y="5306.5">按保险金额计算赔偿，但保险金额高于实际价</tspan><tspan x="230" dy="16">值时，以不超过出险当时的实际价值计算赔偿</tspan><tspan x="230" dy="16">。</tspan></text><path class="u" d="M225 5348H486"/></g>
<g id="n4-s4-12-3"><text class="t" x="442" y="5393.5">甲方:</text><path class="u" d="M435 5403H486"/></g>
<g id="n4-s4-12-4"><text class="t" x="442" y="5475.5">乙方:</text><path class="u" d="M435 5485H486"/></g>
<g id="n4-s4-12-4-1"><text class="t" x="299" y="5448.5">签订时间：年 月 日</text><path class="u" d="M294 5458H413"/></g>
<g id="n4-s4-12-4-2"><text class="t" x="296" y="5503.5">签订时间：  年 月 日</text><path class="u" d="M290 5513H413"/></g>

<!-- 第六篇 -->
<g id="n6-1"><text class="t"><tspan x="608" y="5557.5">1、报案后保险公司对4名伤者进行医疗跟踪</tspan><tspan x="608" dy="16">，然后会告诉你医保外用药部分不予报销的，</tspan><tspan x="608" dy="16">注意医保内用药。公司会根据责任划分，在你</tspan><tspan x="608" dy="16">父亲车的"车上人员责任险"和对方车辆"第三</tspan><tspan x="608" dy="16">者责任保险"保额内对4名伤者进行理赔。</tspan></text><path class="u" d="M601 5631H862"/></g>
<g id="n6-2"><text class="t"><tspan x="608" y="5676.5">2、误工费找伤者3的单位出具收入减少证明</tspan><tspan x="608" dy="16">以及出事近3月单位工资表，和你给他赔钱的</tspan><tspan x="608" dy="16">赔款收条;</tspan></text><path class="u" d="M601 5718H862"/></g>
<g id="n6-2-1"><text class="t"><tspan x="324" y="5692.5">其他无单位人员误工费，根据户口所在地按城</tspan><tspan x="324" dy="16">镇或农村标准赔偿;</tspan></text><path class="u" d="M317 5718H578"/></g>
<g id="n6-3"><text class="t"><tspan x="608" y="5763.5">3、如果伤者费用较高，可以向保险公司申请</tspan><tspan x="608" dy="16">垫付或预付，预付赔款原则上不超过估计损失</tspan><tspan x="608" dy="16">金额的50%</tspan></text><path class="u" d="M601 5805H862"/></g>
<g id="n6-4"><text class="t"><tspan x="608" y="5849.5">4、伤情如果不是很严重，对方车的三者保额</tspan><tspan x="608" dy="16">以及你父亲车的车上座位保额，应该说保的是</tspan><tspan x="608" dy="16">足够了</tspan></text><path class="u" d="M601 5891H862"/></g>
<g id="n6-4-1"><text class="t" x="434" y="5855.5">~~~祝你父亲早日康复!</text><path class="u" d="M427 5865H578"/></g>
<g id="n6-4-2"><text class="t" x="384" y="5909.5">-------------------------人保职工</text><path class="u" d="M376 5919H578"/></g>
</g>
</svg>
